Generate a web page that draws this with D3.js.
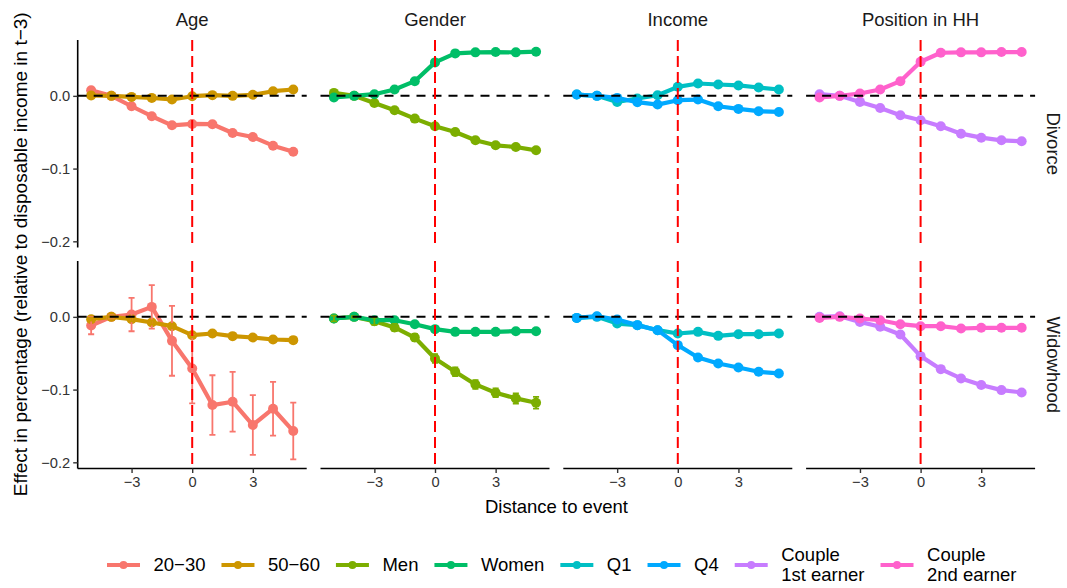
<!DOCTYPE html>
<html>
<head>
<meta charset="utf-8">
<script src="https://cdn.jsdelivr.net/npm/d3@7"></script>
<style>
  html, body { margin: 0; padding: 0; background: #fff; }
  svg { display: block; font-family: "Liberation Sans", Arial, sans-serif; }
</style>
</head>
<body>
<svg id="chart" width="1067" height="588"></svg>
<script>
// Event-study estimates: years relative to the event
const distance = [-5, -4, -3, -2, -1, 0, 1, 2, 3, 4, 5];
const xTicks = [-3, 0, 3];
const yTicks = [0, -0.1, -0.2];

const facetNames = ["Age", "Gender", "Income", "Position in HH"];
const eventNames = ["Divorce", "Widowhood"];

const groupNames = ["20\u221230", "50\u221260", "Men", "Women", "Q1", "Q4",
  "Couple\n1st earner", "Couple\n2nd earner"];
const groupColors = ["#F8766D", "#CD9600", "#7CAE00", "#00BE67",
  "#00BFC4", "#00A9FF", "#C77CFF", "#FF61CC"];
const groupFacet = [0, 0, 1, 1, 2, 2, 3, 3];

// Divorce
const divorce_20_30 = [0.0078, 0, -0.0143, -0.028, -0.0405, -0.0386, -0.039, -0.051, -0.0566, -0.0685, -0.0768];
const divorce_50_60 = [0.0005, 0, -0.0014, -0.0028, -0.005, -0.0005, 0.001, 0, 0.0014, 0.0064, 0.0087];
const divorce_men = [0.0041, 0, -0.0097, -0.0198, -0.0313, -0.0418, -0.0497, -0.0611, -0.068, -0.0703, -0.0749];
const divorce_women = [-0.0023, 0, 0.0023, 0.0087, 0.0202, 0.046, 0.0584, 0.0598, 0.0602, 0.0598, 0.0607];
const divorce_q1 = [0.0018, 0, -0.0083, -0.0037, 0.0009, 0.0124, 0.017, 0.0156, 0.0143, 0.0115, 0.0087];
const divorce_q4 = [0.0018, 0, -0.0028, -0.0087, -0.012, -0.006, -0.0051, -0.0143, -0.0179, -0.0211, -0.0221];
const divorce_first = [0.0023, 0, -0.0083, -0.0166, -0.0267, -0.0336, -0.0418, -0.052, -0.0575, -0.0611, -0.0625];
const divorce_second = [-0.0023, 0, 0.0032, 0.0087, 0.0202, 0.0469, 0.0593, 0.0598, 0.0598, 0.0602, 0.0602];

// Widowhood
const widow_20_30 = [-0.0119, 0, 0.0032, 0.0137, -0.033, -0.0709, -0.1213, -0.1167, -0.1487, -0.1263, -0.157];
const widow_50_60 = [-0.0032, 0, -0.0032, -0.0078, -0.0128, -0.0252, -0.0229, -0.0265, -0.0284, -0.0311, -0.032];
const widow_men = [-0.0023, 0, -0.006, -0.0146, -0.0284, -0.0572, -0.0755, -0.0929, -0.1043, -0.1121, -0.1181];
const widow_women = [-0.0023, 0, -0.0046, -0.0046, -0.0101, -0.0169, -0.0206, -0.0206, -0.0206, -0.0197, -0.0197];
const widow_q1 = [-0.0014, 0, -0.0092, -0.0114, -0.0183, -0.0229, -0.0206, -0.0261, -0.0238, -0.0238, -0.0229];
const widow_q4 = [-0.0014, 0.0009, -0.0037, -0.0114, -0.0183, -0.0389, -0.0558, -0.0641, -0.0696, -0.0755, -0.0778];
const widow_first = [0, 0.0009, -0.0069, -0.0137, -0.0243, -0.054, -0.0719, -0.0847, -0.0938, -0.1007, -0.1039];
const widow_second = [-0.0014, 0, -0.0023, -0.0046, -0.0101, -0.0128, -0.0128, -0.016, -0.0151, -0.0151, -0.0151];

// Confidence half-widths (only where they reach beyond the markers)
const widow_20_30_ci = [0.012, 0.002, 0.023, 0.030, 0.048, 0.048, 0.041, 0.041, 0.041, 0.037, 0.039];
const widow_50_60_ci = [0.002, 0.001, 0.003, 0.003, 0.003, 0.003, 0.003, 0.003, 0.003, 0.003, 0.004];
const widow_men_ci = [0.004, 0.001, 0.005, 0.005, 0.005, 0.006, 0.006, 0.006, 0.006, 0.007, 0.008];

const seriesValues = [
  [divorce_20_30, divorce_50_60, divorce_men, divorce_women, divorce_q1, divorce_q4, divorce_first, divorce_second],
  [widow_20_30, widow_50_60, widow_men, widow_women, widow_q1, widow_q4, widow_first, widow_second]
];
const seriesCI = [
  [null, null, null, null, null, null, null, null],
  [widow_20_30_ci, widow_50_60_ci, widow_men_ci, null, null, null, null, null]
];

// ---- layout ----
const svg = d3.select("#chart");
const panelLeft = 77.7, panelW = 229, panelStep = 242.8;
const rowTop = [40, 261], panelH = 207.5;
const FONT_TITLE = 18.5, FONT_TICK = 14.7;

const x = d3.scaleLinear().domain([-5.665, 5.665]);
const yDomain = [-0.2085, 0.0768];

function fmtTick(v) {
  return d3.format(".1f")(v).replace("-", "\u2212");
}

eventNames.forEach((ev, r) => {
  const y = d3.scaleLinear().domain(yDomain).range([rowTop[r] + panelH, rowTop[r]]);
  facetNames.forEach((fac, c) => {
    const x0 = panelLeft + c * panelStep;
    const xs = x.copy().range([x0, x0 + panelW]);
    const g = svg.append("g");
    const groups = d3.range(groupNames.length).filter(i => groupFacet[i] === c);

    const line = d3.line().x((d, i) => xs(distance[i])).y(d => y(d));

    // series lines
    groups.forEach(gi => {
      g.append("path")
        .datum(seriesValues[r][gi])
        .attr("d", line)
        .attr("fill", "none")
        .attr("stroke", groupColors[gi])
        .attr("stroke-width", 4.2)
        .attr("stroke-linejoin", "round");
    });
    // markers
    groups.forEach(gi => {
      g.selectAll(null)
        .data(seriesValues[r][gi])
        .join("circle")
        .attr("cx", (d, i) => xs(distance[i]))
        .attr("cy", d => y(d))
        .attr("r", 5)
        .attr("fill", groupColors[gi]);
    });
    // error bars
    groups.forEach(gi => {
      const ci = seriesCI[r][gi];
      if (!ci) return;
      const vals = seriesValues[r][gi];
      const eb = g.append("g").attr("stroke", groupColors[gi]).attr("stroke-width", 1.8).attr("fill", "none");
      vals.forEach((v, i) => {
        const cx = xs(distance[i]);
        const lo = y(v - ci[i]), hi = y(v + ci[i]);
        const hw = xs(distance[i] + 0.15) - cx;
        eb.append("path").attr("d", `M${cx - hw},${hi}H${cx + hw}M${cx},${hi}V${lo}M${cx - hw},${lo}H${cx + hw}`);
      });
    });

    // reference lines: zero effect and event year
    g.append("line")
      .attr("x1", x0).attr("x2", x0 + panelW)
      .attr("y1", y(0)).attr("y2", y(0))
      .attr("stroke", "#000").attr("stroke-width", 2)
      .attr("stroke-dasharray", "9,7");
    g.append("line")
      .attr("x1", xs(0)).attr("x2", xs(0))
      .attr("y1", rowTop[r]).attr("y2", rowTop[r] + panelH)
      .attr("stroke", "#FF0000").attr("stroke-width", 2)
      .attr("stroke-dasharray", "11,5");

    // y axis on first column
    if (c === 0) {
      const ya = svg.append("g")
        .attr("transform", `translate(${x0},0)`)
        .call(d3.axisLeft(y).tickValues(yTicks).tickFormat(fmtTick).tickSize(4.5).tickPadding(3));
      ya.select(".domain").attr("stroke", "#000").attr("stroke-width", 1.6).attr("d", `M0,${rowTop[r]}V${rowTop[r] + panelH}`);
      ya.selectAll(".tick line").attr("stroke", "#333").attr("stroke-width", 1.4);
      ya.selectAll(".tick text").attr("fill", "#333").style("font-size", FONT_TICK + "px")
        .style("font-family", "Liberation Sans, Arial, sans-serif");
    }
    // x axis on bottom row
    if (r === eventNames.length - 1) {
      const xa = svg.append("g")
        .attr("transform", `translate(0,${rowTop[r] + panelH})`)
        .call(d3.axisBottom(xs).tickValues(xTicks).tickFormat(v => String(v).replace("-", "\u2212")).tickSize(4.5).tickPadding(4));
      xa.select(".domain").attr("stroke", "#000").attr("stroke-width", 1.6).attr("d", `M${x0},0H${x0 + panelW}`);
      xa.selectAll(".tick line").attr("stroke", "#333").attr("stroke-width", 1.4);
      xa.selectAll(".tick text").attr("fill", "#333").style("font-size", FONT_TICK + "px")
        .style("font-family", "Liberation Sans, Arial, sans-serif");
    }
    // facet strip on top row
    if (r === 0) {
      svg.append("text")
        .attr("x", x0 + panelW / 2).attr("y", 20)
        .attr("dy", "0.35em")
        .attr("text-anchor", "middle")
        .attr("fill", "#1A1A1A")
        .style("font-size", FONT_TITLE + "px")
        .text(fac);
    }
  });
  // event strip on the right
  const cy = rowTop[r] + panelH / 2;
  svg.append("text")
    .attr("transform", `translate(1053,${cy}) rotate(90)`)
    .attr("dy", "0.35em")
    .attr("text-anchor", "middle")
    .attr("fill", "#1A1A1A")
    .style("font-size", FONT_TITLE + "px")
    .text(ev);
});

// axis titles
const plotRight = panelLeft + 3 * panelStep + panelW;
svg.append("text")
  .attr("x", (panelLeft + plotRight) / 2).attr("y", 507)
  .attr("dy", "0.35em").attr("text-anchor", "middle")
  .attr("fill", "#000").style("font-size", FONT_TITLE + "px")
  .text("Distance to event");
svg.append("text")
  .attr("transform", `translate(20,${(rowTop[0] + rowTop[1] + panelH) / 2}) rotate(-90)`)
  .attr("dy", "0.35em").attr("text-anchor", "middle")
  .attr("fill", "#000").style("font-size", "19px")
  .text("Effect in percentage (relative to disposable income in t\u22123)");

// legend
const legendY = 565, keyW = 33, textGap = 13.5, itemGap = 16;
let lx = 107;
const legend = svg.append("g");
groupNames.forEach((name, i) => {
  const item = legend.append("g");
  item.append("line")
    .attr("x1", lx).attr("x2", lx + keyW)
    .attr("y1", legendY).attr("y2", legendY)
    .attr("stroke", groupColors[i]).attr("stroke-width", 4);
  item.append("circle")
    .attr("cx", lx + keyW / 2).attr("cy", legendY).attr("r", 4)
    .attr("fill", groupColors[i]);
  const lines = name.split("\n");
  const t = item.append("text")
    .attr("x", lx + keyW + textGap)
    .attr("fill", "#000")
    .style("font-size", FONT_TITLE + "px");
  const lineH = 20;
  lines.forEach((s, k) => {
    t.append("tspan")
      .attr("x", lx + keyW + textGap)
      .attr("y", legendY + (k - (lines.length - 1) / 2) * lineH)
      .attr("dy", "0.35em")
      .text(s);
  });
  const w = t.node().getBBox().width;
  lx += keyW + textGap + w + itemGap;
});
</script>
</body>
</html>
